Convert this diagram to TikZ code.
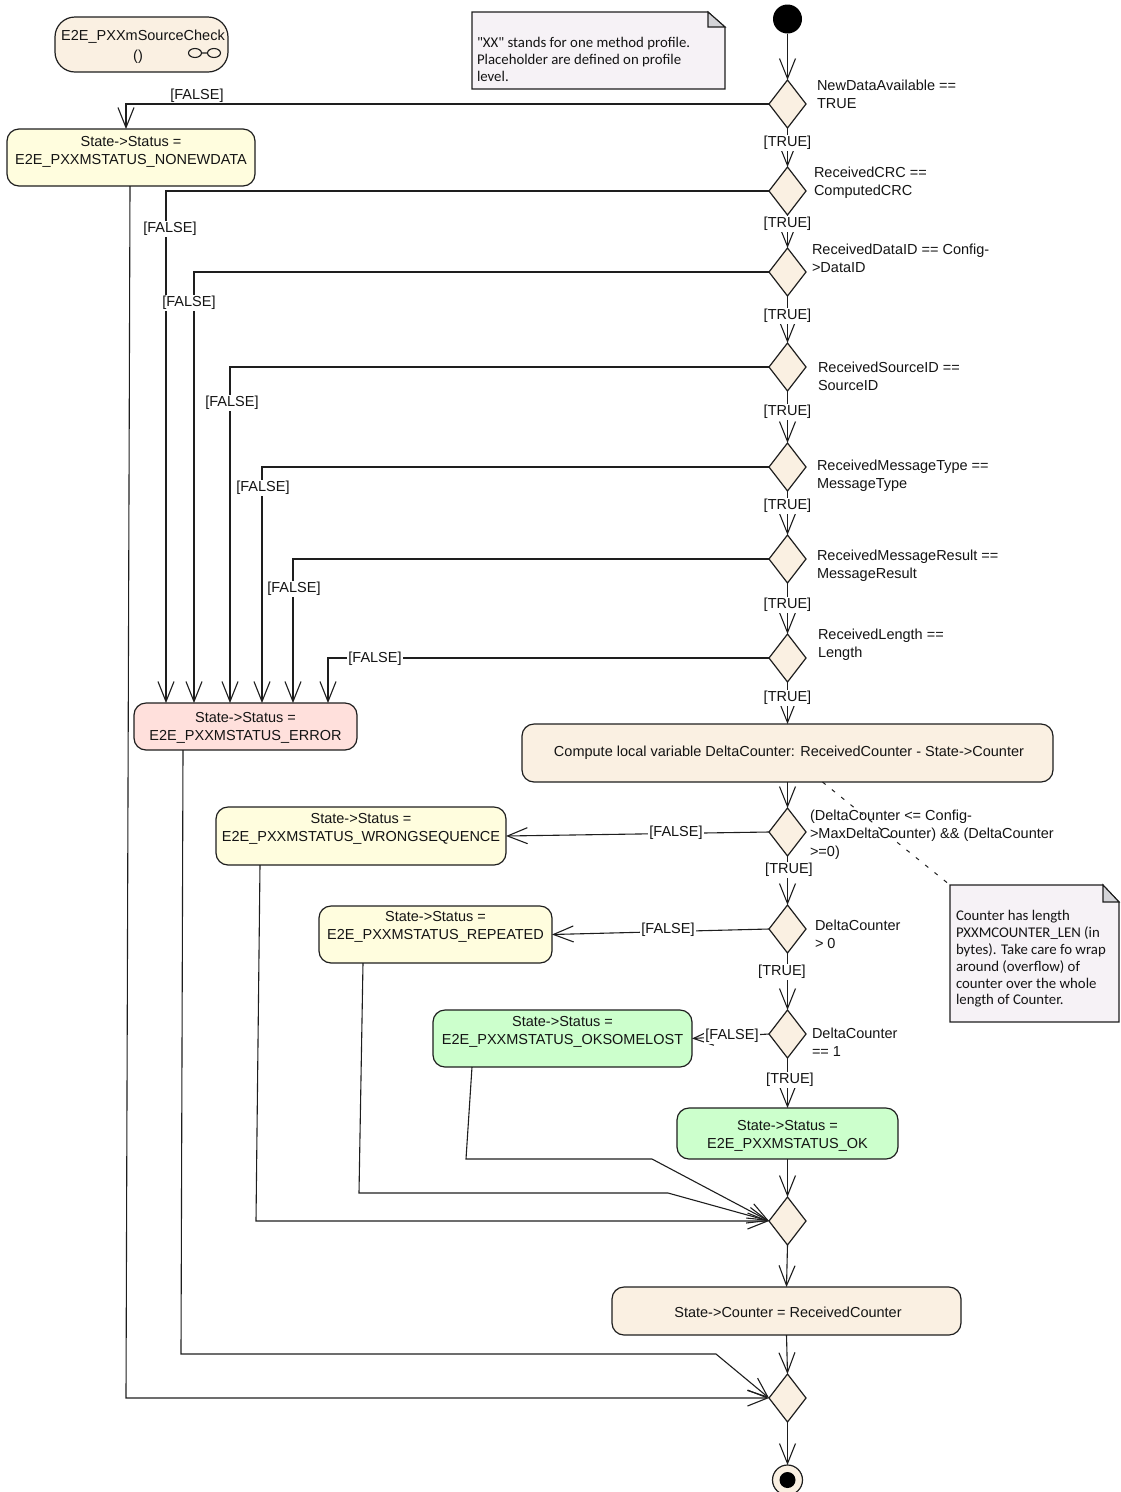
\documentclass[tikz,border=0pt]{standalone}
\usepackage{fontspec}
\setmainfont{Liberation Sans}
\newfontfamily\notefont{Carlito}
\usetikzlibrary{arrows.meta,shapes.geometric,calc}
\definecolor{lc}{RGB}{30,30,30}
\definecolor{beige}{RGB}{250,240,226}
\definecolor{yel}{RGB}{255,253,222}
\definecolor{pinkc}{RGB}{255,224,220}
\definecolor{grn}{RGB}{204,255,204}
\definecolor{notec}{RGB}{246,242,246}
\definecolor{foldc}{RGB}{212,212,216}
\newcommand\dgfont{\fontsize{14.5}{18}\selectfont}
\newcommand\ntfont{\notefont\fontsize{14.8}{16.8}\selectfont}
\begin{document}
\begin{tikzpicture}[x=1pt,y=-1pt,
  every node/.style={font=\dgfont, text=black!92, outer sep=0pt},
  act/.style={draw=lc, rounded corners=12pt, inner sep=0pt, line width=1.2pt},
  dec/.style={diamond, draw=lc, fill=beige, minimum width=37pt, minimum height=48pt, inner sep=0pt, line width=1.2pt},
  arr/.style={draw=lc, line width=1.1pt, -{Straight Barb[length=20pt,width=16pt,line width=1.1pt]}},
  grd/.style={fill=white, inner sep=1pt},
  cond/.style={align=left, anchor=west, inner sep=0pt},
  txt/.style={align=center, inner sep=0pt},
  notebox/.style={draw=none, inner sep=0pt},
]
\useasboundingbox (0,0) rectangle (1120,1492);

% ---------- function box
\node[act, fill=beige, rounded corners=20pt, minimum width=173pt, minimum height=55pt] (fn) at (141.5,44.5) {};
\node[txt] (fnT) at (143,37) {E2E\_PXXmSourceCheck};
\node[txt] (fnP) at (138,57) {()};
\draw[lc, line width=1.1pt] (195,53) ellipse (6.5pt and 4.5pt) (214,53) ellipse (6.5pt and 4.5pt) (201.5,53) -- (207.5,53);

% ---------- note 1
\node[notebox, minimum width=253pt, minimum height=77pt] (n1) at (598.5,50.5) {};
\path[draw=lc, fill=notec, line width=1.1pt] (n1.north west) -- ([xshift=-17pt]n1.north east) -- ([yshift=-15pt]n1.north east) -- (n1.south east) -- (n1.south west) -- cycle;
\path[draw=lc, fill=foldc, line width=1.1pt] ([xshift=-17pt]n1.north east) -- ([xshift=-17pt,yshift=-15pt]n1.north east) -- ([yshift=-15pt]n1.north east) -- cycle;
\node[cond, font=\ntfont] (n1T) at (477,59.5) {"XX" stands for one method profile.\\Placeholder are defined on profile\\level.};

% ---------- note 2
\node[notebox, minimum width=169pt, minimum height=137pt] (n2) at (1034.5,953.5) {};
\path[draw=lc, fill=notec, line width=1.1pt] (n2.north west) -- ([xshift=-16pt]n2.north east) -- ([yshift=-17pt]n2.north east) -- (n2.south east) -- (n2.south west) -- cycle;
\path[draw=lc, fill=foldc, line width=1.1pt] ([xshift=-16pt]n2.north east) -- ([xshift=-16pt,yshift=-17pt]n2.north east) -- ([yshift=-17pt]n2.north east) -- cycle;
\node[cond, font=\ntfont] (n2T) at (956,959) {Counter has length\\PXXMCOUNTER\_LEN (in\\bytes). Take care fo wrap\\around (overflow) of\\counter over the whole\\length of Counter.};

% ---------- main flow nodes
\node[circle, fill=black, minimum size=29pt, inner sep=0pt] (start) at (787.5,19) {};
\node[dec] (d1) at (787.5,104) {};
\node[dec] (d2) at (787.5,191) {};
\node[dec] (d3) at (787.5,272) {};
\node[dec] (d4) at (787.5,367) {};
\node[dec] (d5) at (787.5,467) {};
\node[dec] (d6) at (787.5,559) {};
\node[dec] (d7) at (787.5,658) {};
\node[act, fill=beige, minimum width=531pt, minimum height=58pt] (comp) at (787.5,753) {};
\node[txt] (compT) at (789,753) {Compute local variable DeltaCounter: ReceivedCounter - State->Counter};
\node[dec] (d8) at (787.5,832) {};
\node[dec] (d9) at (787.5,929) {};
\node[dec] (d10) at (787.5,1034) {};
\node[act, fill=grn, minimum width=221pt, minimum height=51pt] (okb) at (787.5,1133.5) {};
\node[txt] (okbT) at (787.5,1136) {State->Status =\\E2E\_PXXMSTATUS\_OK};
\node[dec] (m1) at (787.5,1221) {};
\node[act, fill=beige, minimum width=349pt, minimum height=48pt] (cnt) at (786.5,1311) {};
\node[txt] (cntT) at (788,1312) {State->Counter = ReceivedCounter};
\node[dec] (m2) at (787.5,1398) {};
\node[circle, draw=lc, fill=beige, line width=1.2pt, minimum size=30pt, inner sep=0pt] (fin) at (787.5,1480) {};
\fill[black] (fin.center) circle (8pt);

% ---------- side boxes
\node[act, fill=yel, minimum width=248pt, minimum height=57pt] (nonew) at (131,157.5) {};
\node[txt] (nonewT) at (131,152) {State->Status =\\E2E\_PXXMSTATUS\_NONEWDATA};
\node[act, fill=pinkc, minimum width=223pt, minimum height=47pt] (err) at (245.5,726.5) {};
\node[txt] (errT) at (245.5,727.5) {State->Status =\\E2E\_PXXMSTATUS\_ERROR};
\node[act, fill=yel, minimum width=290pt, minimum height=58pt] (ws) at (361,836) {};
\node[txt] (wsT) at (361,828.5) {State->Status =\\E2E\_PXXMSTATUS\_WRONGSEQUENCE};
\node[act, fill=yel, minimum width=233pt, minimum height=57pt] (rp) at (435.5,934.5) {};
\node[txt] (rpT) at (435.5,927) {State->Status =\\E2E\_PXXMSTATUS\_REPEATED};
\node[act, fill=grn, minimum width=259pt, minimum height=57pt] (osl) at (562.5,1038.5) {};
\node[txt] (oslT) at (562.5,1031.5) {State->Status =\\E2E\_PXXMSTATUS\_OKSOMELOST};

% ---------- condition texts
\node[cond] (c1) at (817,94) {NewDataAvailable ==\\TRUE};
\node[cond] (c2) at (814,183) {ReceivedCRC ==\\ComputedCRC};
\node[cond] (c3) at (812,258) {ReceivedDataID == Config-\\>DataID};
\node[cond] (c4) at (818,376) {ReceivedSourceID ==\\SourceID};
\node[cond] (c5) at (817,476) {ReceivedMessageType ==\\MessageType};
\node[cond] (c6) at (817,566) {ReceivedMessageResult ==\\MessageResult};
\node[cond] (c7) at (818,645) {ReceivedLength ==\\Length};
\node[cond] (c8) at (810,835) {(DeltaCounter <= Config-\\>MaxDeltaCounter) \&\& (DeltaCounter\\>=0)};
\node[cond] (c9) at (815,934.5) {DeltaCounter\\> 0};
\node[cond] (c10) at (812,1042.5) {DeltaCounter\\== 1};

% ---------- dashed note link
\draw[lc, line width=1pt, dash pattern=on 4pt off 8pt] ([xshift=35pt]comp.south) -- (n2.north west);

% ---------- main chain
\draw[arr] (start) -- (d1.north);
\draw[arr] (d1.south) -- (d2.north);
\draw[arr] (d2.south) -- (d3.north);
\draw[arr] (d3.south) -- (d4.north);
\draw[arr] (d4.south) -- (d5.north);
\draw[arr] (d5.south) -- (d6.north);
\draw[arr] (d6.south) -- (d7.north);
\draw[arr] (d7.south) -- (comp.north);
\draw[arr] (comp.south) -- (d8.north);
\draw[arr] (d8.south) -- (d9.north);
\draw[arr] (d9.south) -- (d10.north);
\draw[arr] (d10.south) -- (okb.north);
\draw[arr] (okb.south) -- (m1.north);
\draw[arr] (m1.south) -- (cnt.north);
\draw[arr] (cnt.south) -- (m2.north);
\draw[arr] (m2.south) -- (fin.north);

% ---------- false branches
\draw[arr] (d1.west) -| ([xshift=-5pt]nonew.north);
\draw[arr] (d2.west) -| ([xshift=-79.5pt]err.north);
\draw[arr] (d3.west) -| ([xshift=-51.5pt]err.north);
\draw[arr] (d4.west) -| ([xshift=-15.5pt]err.north);
\draw[arr] (d5.west) -| ([xshift=16.5pt]err.north);
\draw[arr] (d6.west) -| ([xshift=47.5pt]err.north);
\draw[arr] (d7.west) -| ([xshift=82.5pt]err.north);
\draw[arr] (d8.west) -- (ws.east);
\draw[arr] (d9.west) -- (rp.east);
\draw[arr] (d10.west) -- (osl.east);

% ---------- merges
\draw[arr] ([xshift=-101pt]ws.south) -- (256,1221) -- (m1.west);
\draw[arr] ([xshift=-72.5pt]rp.south) -- (359,1193) -- (668,1193) -- (m1.west);
\draw[arr] ([xshift=-90.5pt]osl.south) -- (466,1159) -- (652,1159) -- (m1.west);
\draw[arr] ([xshift=-62.5pt]err.south) -- (181,1354) -- (716,1354) -- (m2.west);
\draw[arr] ([xshift=-1pt]nonew.south) -- (126,1398) -- (m2.west);

% ---------- guards
\node[inner sep=1pt, anchor=south] (g1f) at (197,104) {[FALSE]};
\node[grd] (g2f) at (170,229) {[FALSE]};
\node[grd] (g3f) at (189,303) {[FALSE]};
\node[grd] (g4f) at (232,403) {[FALSE]};
\node[grd] (g5f) at (263,488) {[FALSE]};
\node[grd] (g6f) at (294,589) {[FALSE]};
\node[grd] (g7f) at (375,659) {[FALSE]};
\node[grd] (g8f) at (676,833) {[FALSE]};
\node[grd] (g9f) at (668,930) {[FALSE]};
\node[grd] (g10f) at (732,1036) {[FALSE]};
\node[grd] (g1t) at (787.5,143) {[TRUE]};
\node[grd] (g2t) at (787.5,224) {[TRUE]};
\node[grd] (g3t) at (787.5,316) {[TRUE]};
\node[grd] (g4t) at (787.5,412) {[TRUE]};
\node[grd] (g5t) at (787.5,506) {[TRUE]};
\node[grd] (g6t) at (787.5,605) {[TRUE]};
\node[grd] (g7t) at (787.5,698) {[TRUE]};
\node[grd] (g8t) at (789,870) {[TRUE]};
\node[grd] (g9t) at (782,972) {[TRUE]};
\node[grd] (g10t) at (790,1080) {[TRUE]};
\end{tikzpicture}
\end{document}
